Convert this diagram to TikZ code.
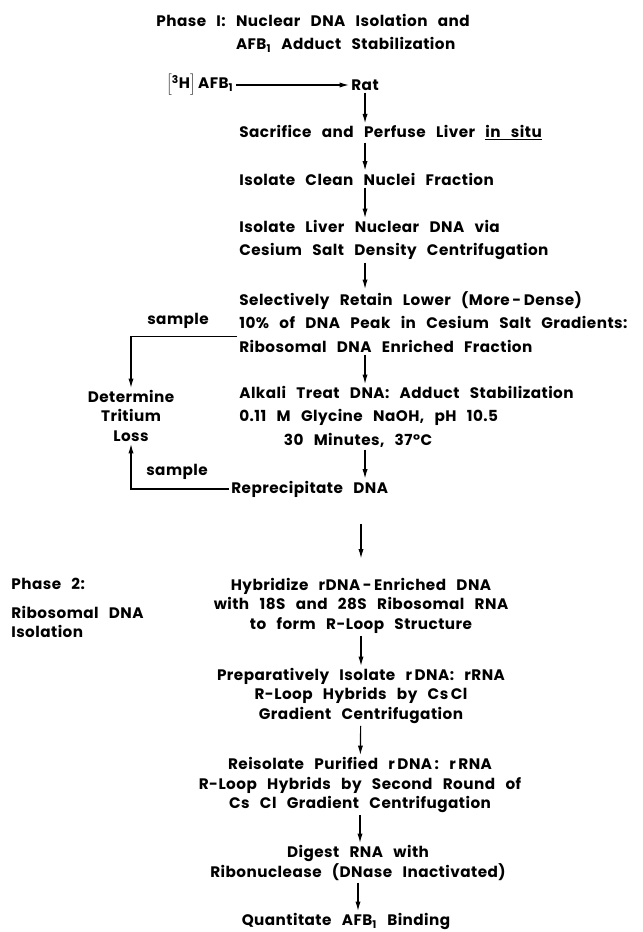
\documentclass[tikz,border=0pt]{standalone}
\usepackage{fontspec}
\setmainfont{Poppins}[LetterSpace=3, WordSpace=2.8]
\usetikzlibrary{positioning,arrows.meta}

\begin{document}
\begin{tikzpicture}[x=0.03cm, y=-0.03cm, >={Latex[length=8pt,width=4.4pt]}, line width=1pt]
            \tikzstyle{stage} = [inner sep=1.5pt, align=left, font=\bfseries\fontsize{13}{20}\selectfont]
            \tikzstyle{stagec} = [inner sep=1.5pt, align=center, font=\bfseries\fontsize{13}{16.6}\selectfont]
            \path[use as bounding box, fill=white] (0,0) rectangle (642,932);

            % Phase I
            \node [stage, anchor=north west] (phaseone) at (154,12) {\makebox[68pt][l]{Phase I:}Nuclear DNA Isolation and\\\hspace*{68pt}AFB\textsubscript{1} Adduct Stabilization};
            \node [stage, anchor=west] (hafb) at (164,85) {$\Bigl[$\textsuperscript{3}H$\Bigr]$\,AFB\textsubscript{1}};
            \node [stage, anchor=west] (rat) at (349,85) {Rat};
            \node [stage, anchor=west] (sacr) at (237,133) {Sacrifice and Perfuse Liver \underline{in situ}};
            \node [stage, anchor=west] (nucl) at (237,179) {Isolate Clean Nuclei Fraction};
            \node [stage, anchor=north west] (cesium) at (237,218) {Isolate Liver Nuclear DNA via\\Cesium Salt Density Centrifugation};
            \node [stage, anchor=north west] (retain) at (237,289) {Selectively Retain Lower (More\,-\,Dense)\\10\% of DNA Peak in Cesium Salt Gradients:\\Ribosomal DNA Enriched Fraction};
            \node [stage, anchor=north west] (alkali) at (237,384) {Alkali Treat DNA: Adduct Stabilization\\0.11 M Glycine NaOH, pH 10.5\\\hspace*{38pt}30 Minutes, 37°C};
            \node [stage, anchor=west] (reppt) at (229,489) {Reprecipitate DNA};

            \node [stagec, anchor=north] (tritium) at (131,388) {Determine\\Tritium\\Loss};
            \node [stage] (sample1) at (178,321) {sample};
            \node [stage] (sample2) at (177,472) {sample};

            % Phase 2
            \node [stagec, align=left, anchor=north west] (phasetwo) at (9,576) {Phase 2:\\[8pt]Ribosomal DNA\\Isolation};
            \node [stagec, anchor=north] (hybrid) at (361,576) {Hybridize rDNA\,-\,Enriched DNA\\with 18S and 28S Ribosomal RNA\\to form R-Loop Structure};
            \node [stagec, anchor=north] (prep) at (361,666) {Preparatively Isolate r\,DNA: rRNA\\R-Loop Hybrids by Cs\,Cl\\Gradient Centrifugation};
            \node [stagec, anchor=north] (reiso) at (360,755) {Reisolate Purified r\,DNA\,: r\,RNA\\R-Loop Hybrids by Second Round of\\Cs Cl Gradient Centrifugation};
            \node [stagec, anchor=north] (digest) at (358,843) {Digest RNA with\\Ribonuclease (DNase Inactivated)};
            \node [stagec, anchor=north] (quant) at (346,911) {Quantitate AFB\textsubscript{1} Binding};
            \coordinate (bigtop) at ([yshift=44pt]hybrid.north);
            \coordinate (bigtip) at ([yshift=15pt]hybrid.north);

            \draw [->] (hafb) to (rat);
            \draw [->] (rat) to (rat |- sacr.north);
            \draw [->] (rat |- sacr.south) to (rat |- nucl.north);
            \draw [->] (rat |- nucl.south) to (rat |- cesium.north);
            \draw [->] (rat |- cesium.south) to (rat |- retain.north);
            \draw [->] (rat |- retain.south) to (rat |- alkali.north);
            \draw [->] (rat |- alkali.south) to (rat |- reppt.north);
            \draw [->] ([yshift=-12.4pt]retain.west) -| (tritium.north);
            \draw [->] (reppt.west) -| (tritium.south);
            \draw [->] (bigtop) to (bigtip);
            \draw [->] (hybrid) to (prep);
            \draw [->] (prep) to (reiso);
            \draw [->] (reiso) to (reiso |- digest.north);
            \draw [->] (digest) to (digest |- quant.north);
        \end{tikzpicture}
\end{document}
